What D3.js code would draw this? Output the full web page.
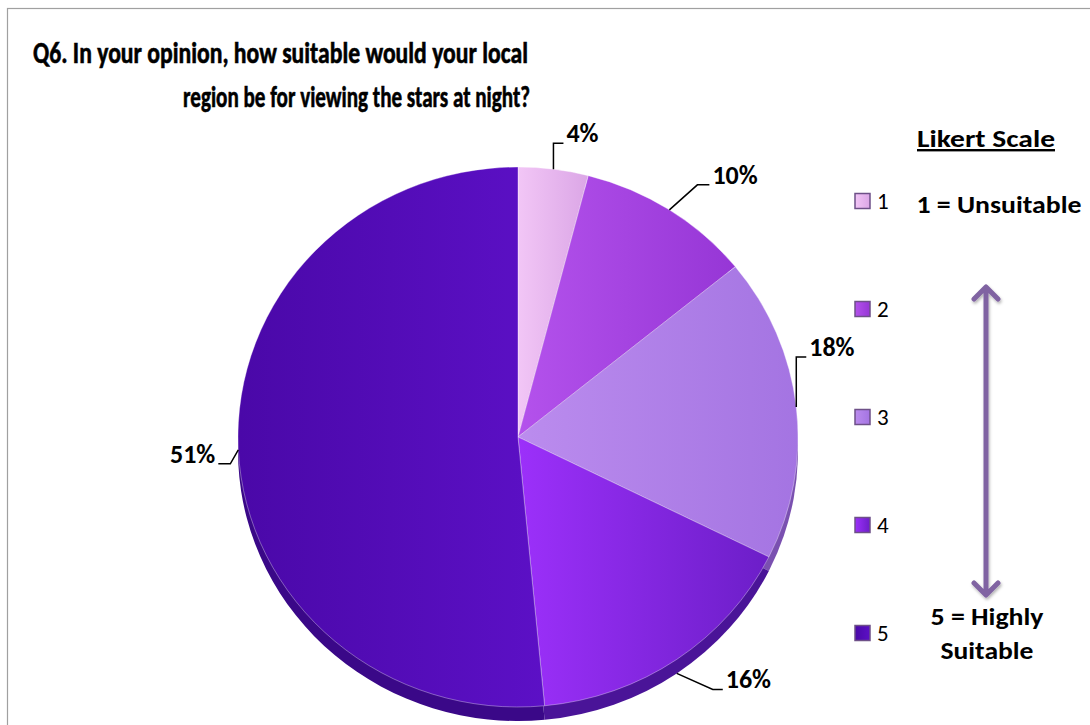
<!DOCTYPE html>
<html>
<head>
<meta charset="utf-8">
<script src="https://cdn.jsdelivr.net/npm/d3@7"></script>
<style>
  html, body { margin: 0; padding: 0; background: #fff; }
  svg { display: block; font-family: Calibri, Carlito, Lato, "Open Sans", sans-serif; }
</style>
</head>
<body>
<svg id="chart" width="1090" height="725"></svg>
<script>
// data
const categories = ["1", "2", "3", "4", "5"];
const values = [4, 10, 18, 16, 51];
const valueLabels = ["4%", "10%", "18%", "16%", "51%"];
const titleLines = ["Q6. In your opinion, how suitable would your local",
                    "region be for viewing the stars at night?"];
const scaleTitle = "Likert Scale";
const lowLabel = ["1 = Unsuitable"];
const highLabel = ["5 = Highly", "Suitable"];

// styles
const topColors = [["#f2c6f6", "#dba6e6"], ["#b452ec", "#9636d6"], ["#bb8cee", "#a474e2"],
                   ["#9c30fa", "#6c1ec8"], ["#4a08a8", "#5c10c6"]];
const sideColors = ["#b680c0", "#6e1ea0", "#7a50b0", "#4a1498", "#3a0888"];

const width = 1090, height = 725;
const svg = d3.select("#chart");
const defs = svg.append("defs");

topColors.forEach((c, i) => {
  const g = defs.append("linearGradient").attr("id", "g" + i)
    .attr("x1", 0).attr("x2", 1).attr("y1", 0).attr("y2", 0);
  g.append("stop").attr("offset", "0%").attr("stop-color", c[0]);
  g.append("stop").attr("offset", "100%").attr("stop-color", c[1]);
});

const shadow = defs.append("filter").attr("id", "shadow")
  .attr("x", "-50%").attr("y", "-10%").attr("width", "200%").attr("height", "120%");
shadow.append("feDropShadow").attr("dx", 1).attr("dy", 2).attr("stdDeviation", 1.5)
  .attr("flood-color", "#000").attr("flood-opacity", 0.3);

// frame
svg.append("rect").attr("x", 7.5).attr("y", 8.5).attr("width", 1200).attr("height", 900)
  .attr("fill", "none").attr("stroke", "#a0a0a0").attr("stroke-width", 1.2);

// title
svg.append("text").attr("x", 33).attr("y", 63)
  .attr("font-size", 30).attr("font-weight", "bold").attr("fill", "#000")
  .attr("stroke", "#000").attr("stroke-width", 0.6)
  .attr("textLength", 495).attr("lengthAdjust", "spacingAndGlyphs")
  .text(titleLines[0]);
svg.append("text").attr("x", 530).attr("y", 107).attr("text-anchor", "end")
  .attr("font-size", 30).attr("font-weight", "bold").attr("fill", "#000")
  .attr("stroke", "#000").attr("stroke-width", 0.6)
  .attr("textLength", 347).attr("lengthAdjust", "spacingAndGlyphs")
  .text(titleLines[1]);

// pie
const cx = 518, cy = 437, rx = 280, ry = 270, depth = 14;
const pie = d3.pie().sort(null).value(d => d);
const arcs = pie(values);
const arc = d3.arc().innerRadius(0).outerRadius(rx);

const sideG = svg.append("g")
  .attr("transform", `translate(${cx},${cy + depth}) scale(1,${ry / rx})`);
sideG.selectAll("path").data(arcs).join("path")
  .attr("d", arc)
  .attr("fill", (d, i) => sideColors[i]);

const faceG = svg.append("g")
  .attr("transform", `translate(${cx},${cy}) scale(1,${ry / rx})`);
faceG.selectAll("path").data(arcs).join("path")
  .attr("d", arc)
  .attr("fill", (d, i) => `url(#g${i})`)
  .attr("stroke", "rgba(255,255,255,0.35)")
  .attr("stroke-width", 1);

// data labels with leader lines
const elbow = [[0, -26, 10], [28, -25, 12], [0, -50, 10], [36, 16, 10], [-8, 14, -12]];
arcs.forEach((d, i) => {
  const a = (d.startAngle + d.endAngle) / 2;
  const ex = cx + rx * Math.sin(a);
  const ey = cy - ry * Math.cos(a) + (Math.cos(a) < -0.5 ? depth : 0);
  const [dx, dy, h] = elbow[i];
  const bx = ex + dx, by = ey + dy;
  svg.append("path")
    .attr("d", `M${ex},${ey}L${bx},${by}L${bx + h},${by}`)
    .attr("fill", "none").attr("stroke", "#000").attr("stroke-width", 1.5);
  svg.append("text")
    .attr("x", bx + h + (h > 0 ? 3 : -3)).attr("y", by - 1)
    .attr("text-anchor", h > 0 ? "start" : "end")
    .attr("font-size", 26).attr("font-weight", "bold").attr("fill", "#000")
    .text(valueLabels[i]);
});

// legend
const ly = d3.scalePoint().domain(categories).range([201, 633]);
const legend = svg.append("g");
categories.forEach((c, i) => {
  legend.append("rect")
    .attr("x", 855).attr("y", ly(c) - 7.5).attr("width", 15).attr("height", 15)
    .attr("fill", `url(#g${i})`).attr("stroke", "#6e5088").attr("stroke-width", 1.5);
  legend.append("text")
    .attr("x", 877).attr("y", ly(c) + 8)
    .attr("font-size", 23).attr("fill", "#000")
    .text(c);
});

// likert annotation
const ax = 986;
const note = (t, x, y, len) => svg.append("text")
  .attr("x", x).attr("y", y).attr("text-anchor", "middle")
  .attr("font-size", 24).attr("font-weight", "bold")
  .attr("textLength", len).attr("lengthAdjust", "spacingAndGlyphs")
  .text(t);
note(scaleTitle, ax, 147, 138).attr("text-decoration", "underline");
note(lowLabel[0], 999, 213, 165);
note(highLabel[0], 987, 625, 113);
note(highLabel[1], 987, 659, 93);

const arrowTop = 287, arrowBot = 595, head = 12;
svg.append("path")
  .attr("d", `M${ax},${arrowTop + 2}L${ax},${arrowBot - 2}` +
    `M${ax - head},${arrowTop + head}L${ax},${arrowTop}L${ax + head},${arrowTop + head}` +
    `M${ax - head},${arrowBot - head}L${ax},${arrowBot}L${ax + head},${arrowBot - head}`)
  .attr("fill", "none").attr("stroke", "#8064a2").attr("stroke-width", 5)
  .attr("stroke-linecap", "round").attr("stroke-linejoin", "round")
  .attr("filter", "url(#shadow)");
</script>
</body>
</html>
